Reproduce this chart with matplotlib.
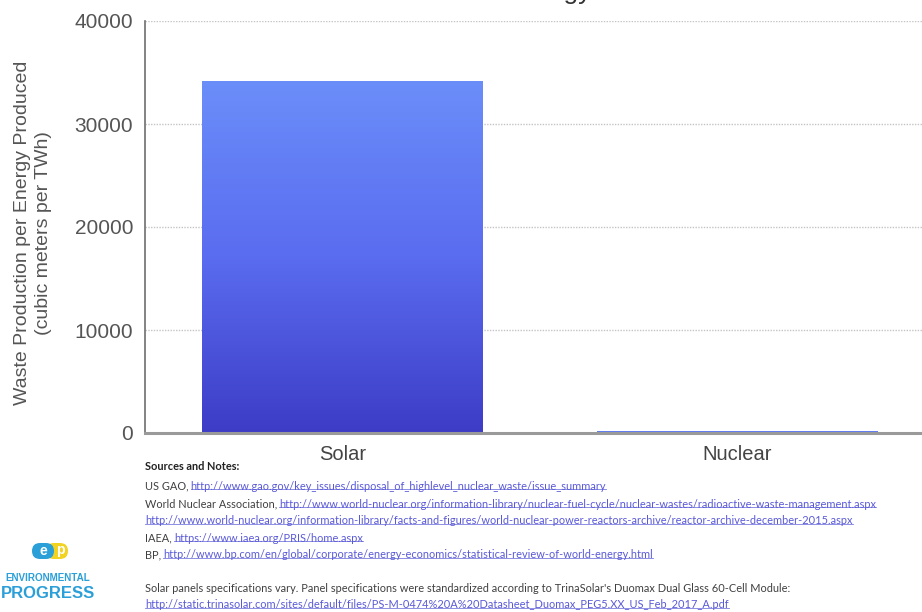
import matplotlib
matplotlib.use("Agg")
import matplotlib.pyplot as plt
import numpy as np
from matplotlib.colors import LinearSegmentedColormap
from matplotlib.patches import FancyBboxPatch
from matplotlib.lines import Line2D

# ---- data -------------------------------------------------------------
categories = ["Solar", "Nuclear"]
waste_per_twh = [34200, 150]          # cubic meters per TWh
y_ticks = [0, 10000, 20000, 30000, 40000]
y_tick_labels = ["0", "10000", "20000", "30000", "40000"]

title_text = "Waste Production per\nUnit of Energy"
y_label = "Waste Production per Energy Produced\n(cubic meters per TWh)"

sources_heading = "Sources and Notes:"
source_prefixes = [
    "US GAO,",
    "World Nuclear Association,",
    "",
    "IAEA,",
    "BP,",
    "Solar panels specifications vary. Panel specifications were standardized according to TrinaSolar's Duomax Dual Glass 60-Cell Module:",
    "",
]
source_links = [
    "http://www.gao.gov/key_issues/disposal_of_highlevel_nuclear_waste/issue_summary",
    "http://www.world-nuclear.org/information-library/nuclear-fuel-cycle/nuclear-wastes/radioactive-waste-management.aspx",
    "http://www.world-nuclear.org/information-library/facts-and-figures/world-nuclear-power-reactors-archive/reactor-archive-december-2015.aspx",
    "https://www.iaea.org/PRIS/home.aspx",
    "http://www.bp.com/en/global/corporate/energy-economics/statistical-review-of-world-energy.html",
    "",
    "http://static.trinasolar.com/sites/default/files/PS-M-0474%20A%20Datasheet_Duomax_PEG5.XX_US_Feb_2017_A.pdf",
]
source_rows_px = [486, 504, 521, 538, 555, 589, 605]

# ---- figure -----------------------------------------------------------
W, H = 922, 612
fig = plt.figure(figsize=(W / 100, H / 100), dpi=100)
fig.patch.set_facecolor("white")

sans = ["Liberation Sans", "DejaVu Sans"]
note_font = ["Lato", "DejaVu Sans"]

ax = fig.add_axes([145 / W, 1 - 433 / H, (935 - 145) / W, (433 - 21) / H])

x = np.arange(len(categories))
bars = ax.bar(x, waste_per_twh, width=0.71, color="#5566e6", zorder=2,
              linewidth=0)

# vertical gradient inside each bar: light blue at the top, indigo at the base
grad_cmap = LinearSegmentedColormap.from_list("bar_grad", ["#3d3cc6", "#5a6cf0", "#6b8ef9"])
grad = np.linspace(0, 1, 256).reshape(-1, 1)
for b in bars:
    x0, w, h = b.get_x(), b.get_width(), b.get_height()
    im = ax.imshow(grad, extent=[x0, x0 + w, 0, h], origin="lower",
                   aspect="auto", cmap=grad_cmap, zorder=2.5)
    im.set_clip_path(b)

ax.set_xlim(-0.5, 1.5)
ax.set_ylim(0, 40000)
ax.set_xticks(x)
ax.set_xticklabels(categories, fontfamily=sans)
ax.set_yticks(y_ticks)
ax.set_yticklabels(y_tick_labels, fontfamily=sans)

ax.tick_params(axis="y", length=0, pad=8.6, labelsize=15, labelcolor="#555555")
ax.tick_params(axis="x", length=0, pad=8.5, labelsize=14.5, labelcolor="#444444")

ax.yaxis.grid(True, linestyle=(0, (1, 1)), color="#c4c4c4", linewidth=1.0)
ax.set_axisbelow(True)
for s in ("top", "right"):
    ax.spines[s].set_visible(False)
ax.spines["left"].set_color("#6e6e6e")
ax.spines["left"].set_linewidth(1.2)
ax.spines["bottom"].set_color("#9a9a9a")
ax.spines["bottom"].set_linewidth(2.2)
ax.spines["bottom"].set_zorder(3)

# title sits mostly above the top edge of the canvas
fig.text(508 / W, 1 - 4 / H, title_text, ha="center", va="bottom",
         fontsize=19, color="#333333", fontfamily=sans, linespacing=1.1)

fig.text(33 / W, 1 - 233 / H, y_label, rotation=90, ha="center", va="center",
         multialignment="center", fontsize=14, color="#555555",
         fontfamily=sans, linespacing=1.25)

# ---- sources block ----------------------------------------------------
text_col = "#404040"
link_col = "#5a5ad8"
left_px = 145
note_size = 7.9

fig.text(left_px / W, 1 - 467 / H, sources_heading, ha="left", va="center",
         fontsize=note_size, fontweight="bold", color="#222222", fontfamily=note_font)

fig.canvas.draw()
renderer = fig.canvas.get_renderer()

for prefix, link, yrow in zip(source_prefixes, source_links, source_rows_px):
    yf = 1 - yrow / H
    xpos = left_px
    if prefix:
        t = fig.text(xpos / W, yf, prefix, ha="left", va="center",
                     fontsize=note_size, color=text_col, fontfamily=note_font)
        bb = t.get_window_extent(renderer)
        xpos = bb.x1 + 2
    if link:
        lt = fig.text(xpos / W, yf, link, ha="left", va="center",
                      fontsize=note_size, color=link_col, fontfamily=note_font)
        lb = lt.get_window_extent(renderer)
        uy = (lb.y0 + 0.2 * lb.height) / H
        fig.add_artist(Line2D([lb.x0 / W, lb.x1 / W], [uy, uy],
                              transform=fig.transFigure, color=link_col,
                              linewidth=0.6, alpha=0.8))

# ---- Environmental Progress mark --------------------------------------
deco = fig.add_axes([0, 0, 1, 1], zorder=-1)
deco.set_xlim(0, W)
deco.set_ylim(H, 0)
deco.axis("off")

logo_blue = "#2b9fd8"
logo_yellow = "#f2d322"
deco.add_patch(FancyBboxPatch((46, 543), 22, 16,
                              boxstyle="round,pad=0,rounding_size=8",
                              facecolor=logo_yellow, edgecolor="none"))
deco.add_patch(FancyBboxPatch((32, 543), 22, 16,
                              boxstyle="round,pad=0,rounding_size=8",
                              facecolor=logo_blue, edgecolor="none"))
deco.text(43, 551, "e", ha="center", va="center", fontsize=10,
          fontweight="bold", color="white", fontfamily=sans)
deco.text(60, 550, "p", ha="center", va="center", fontsize=10,
          fontweight="bold", color="white", fontfamily=sans)
deco.text(48, 578, "ENVIRONMENTAL", ha="center", va="center", fontsize=7.1,
          fontweight="bold", color=logo_blue, fontfamily=sans)
deco.text(48, 594, "PROGRESS", ha="center", va="center", fontsize=12,
          fontweight="bold", color=logo_blue, fontfamily=sans)

fig.savefig("out.png", dpi=100, facecolor="white")
